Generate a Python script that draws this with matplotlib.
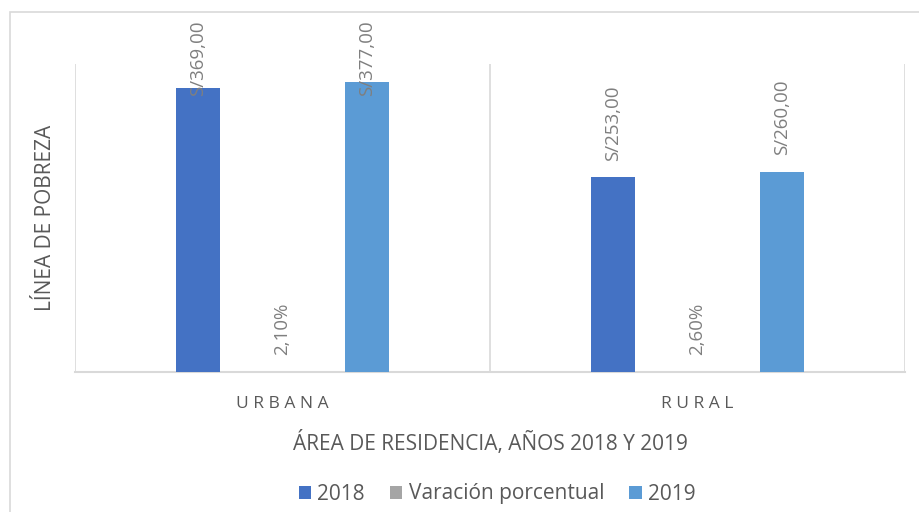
import numpy as np
import matplotlib
matplotlib.use("Agg")
import matplotlib.pyplot as plt
import matplotlib.patches as ptch

# datos
categorias = ["URBANA", "RURAL"]
series = ["2018", "Varación porcentual", "2019"]
v2018 = [369.00, 253.00]
variacion = [0.021, 0.026]
v2019 = [377.00, 260.00]

et2018 = ["S/369,00", "S/253,00"]
etvar = ["2,10%", "2,60%"]
et2019 = ["S/377,00", "S/260,00"]

colores = ["#4472C4", "#A5A5A5", "#5B9BD5"]
gris_txt = "#595959"
gris_et = "#7F7F7F"
gris_lin = "#D9D9D9"

plt.rcParams['font.family'] = ['Open Sans', 'DejaVu Sans']

fig = plt.figure(figsize=(9.2, 5.12), dpi=100)
ax = fig.add_axes([75/920, 1-372/512, 830/920, 308/512])

# borde del gráfico
fig.patches.append(ptch.Rectangle((10/920, -0.1), 1.2, 1.1 - 12/512,
                                  transform=fig.transFigure, fill=False,
                                  edgecolor=gris_lin, linewidth=1.2))

x = np.arange(len(categorias))
off = 0.203
w = 0.105
valores = [v2018, variacion, v2019]
etiquetas = [et2018, etvar, et2019]
tope = 457  # límite superior de las etiquetas (unidades de datos)

for k, (vals, ets) in enumerate(zip(valores, etiquetas)):
    pos = x + (k - 1) * off
    ax.bar(pos, vals, w, color=colores[k], label=series[k], zorder=3)
    for p, v, t in zip(pos, vals, ets):
        if v + 122 > tope:
            ax.text(p, tope, t, rotation=90, ha='center', va='top',
                    fontsize=13.5, color=gris_et, clip_on=False, zorder=4)
        else:
            ax.annotate(t, (p, v), xytext=(0, 12), textcoords='offset points',
                        rotation=90, ha='center', va='bottom',
                        fontsize=13.5, color=gris_et, zorder=4)

ax.set_xlim(-0.5, 1.5)
ax.set_ylim(0, 400)
for xv in [-0.5, 0.5, 1.5]:
    ax.axvline(xv, color=gris_lin, linewidth=1.2, zorder=1)

for s in ['top', 'right', 'left']:
    ax.spines[s].set_visible(False)
ax.spines['bottom'].set_color(gris_lin)
ax.spines['bottom'].set_linewidth(1.5)
ax.set_yticks([])
ax.set_xticks(x)
ax.set_xticklabels([" ".join(c) for c in categorias], fontsize=12.5,
                   color=gris_txt)
ax.tick_params(axis='x', length=0, pad=17)

ax.set_ylabel("LÍNEA DE POBREZA", fontsize=15, color=gris_txt, labelpad=14)
ax.set_xlabel("ÁREA DE RESIDENCIA, AÑOS 2018 Y 2019", fontsize=15,
              color=gris_txt, labelpad=14)

leg = fig.legend(loc='center', bbox_to_anchor=(497/920, 1-494/512), ncol=3,
                 frameon=False, fontsize=15, handlelength=0.6,
                 handleheight=0.6, handletextpad=0.3, columnspacing=1.2)
for t in leg.get_texts():
    t.set_color(gris_txt)

fig.savefig("out.png", dpi=100)
